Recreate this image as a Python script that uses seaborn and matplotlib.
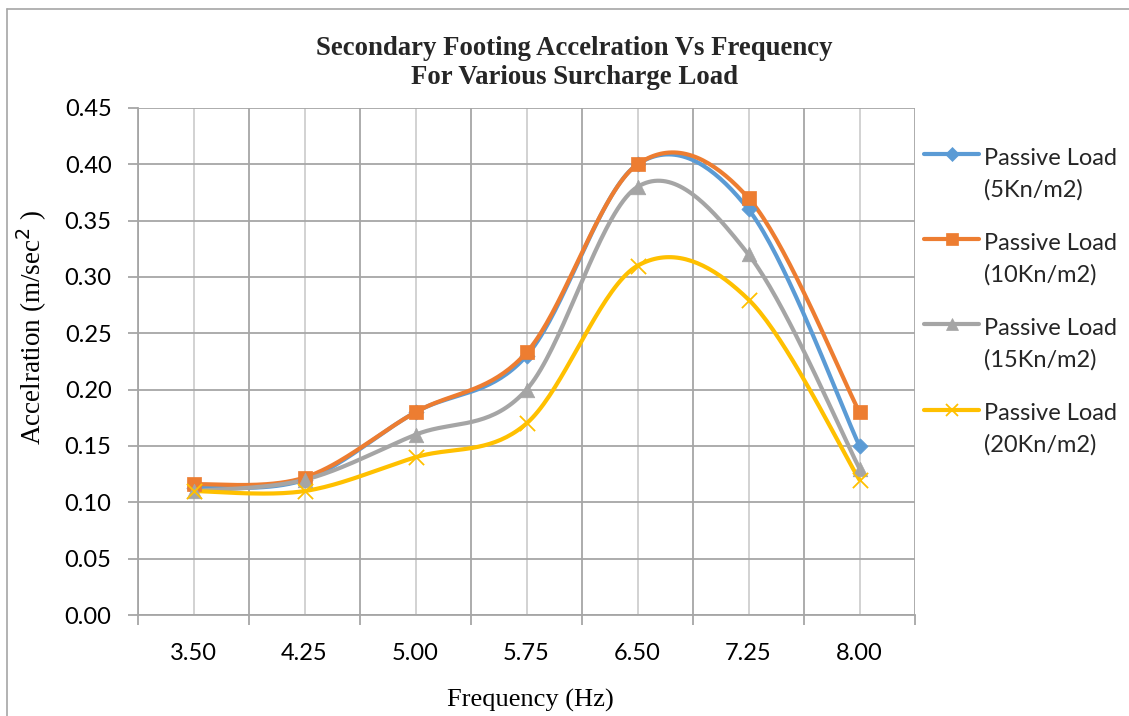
import numpy as np
import pandas as pd
import matplotlib.pyplot as plt
import seaborn as sns
from matplotlib.lines import Line2D
from matplotlib.legend_handler import HandlerLine2D
from matplotlib.ticker import MultipleLocator

# data
frequencies = ["3.50", "4.25", "5.00", "5.75", "6.50", "7.25", "8.00"]
load_5 = [0.113, 0.120, 0.180, 0.230, 0.400, 0.360, 0.150]
load_10 = [0.116, 0.122, 0.180, 0.233, 0.400, 0.370, 0.180]
load_15 = [0.110, 0.120, 0.160, 0.200, 0.380, 0.320, 0.130]
load_20 = [0.110, 0.110, 0.140, 0.170, 0.310, 0.280, 0.120]
series_names = ["Passive Load\n(5Kn/m2)", "Passive Load\n(10Kn/m2)",
                "Passive Load\n(15Kn/m2)", "Passive Load\n(20Kn/m2)"]

colors = ["#5B9BD5", "#ED7D31", "#A5A5A5", "#FFC000"]
markers = ["D", "s", "^", "x"]
marker_sizes = [60, 110, 110, 120]


def excel_smooth(y, n=40):
    """Bezier smoothing similar to Excel's 'smoothed line'."""
    x = np.arange(len(y), dtype=float)
    y = np.asarray(y, dtype=float)
    px = np.r_[x[0], x, x[-1]]
    py = np.r_[y[0], y, y[-1]]
    xs, ys = [], []
    t = np.linspace(0, 1, n)
    for i in range(len(x) - 1):
        p0 = np.array([px[i + 1], py[i + 1]])
        p3 = np.array([px[i + 2], py[i + 2]])
        c1 = p0 + (p3 - np.array([px[i], py[i]])) / 6
        c2 = p3 - (np.array([px[i + 3], py[i + 3]]) - p0) / 6
        b = ((1 - t) ** 3)[:, None] * p0 + (3 * (1 - t) ** 2 * t)[:, None] * c1 \
            + (3 * (1 - t) * t ** 2)[:, None] * c2 + (t ** 3)[:, None] * p3
        xs.append(b[:, 0])
        ys.append(b[:, 1])
    return np.concatenate(xs), np.concatenate(ys)


class FirstLineHandler(HandlerLine2D):
    """Puts the legend key beside the first line of a two-line label."""
    def create_artists(self, legend, orig_handle, xdescent, ydescent,
                       width, height, fontsize, trans):
        artists = super().create_artists(legend, orig_handle, xdescent, ydescent,
                                         width, height, fontsize, trans)
        for a in artists:
            a.set_ydata(np.asarray(a.get_ydata()) + 14.5)
        return artists


sns.set_theme(style="white")
plt.rcParams["font.family"] = ["Lato", "DejaVu Sans"]

fig = plt.figure(figsize=(11.29, 7.16), dpi=100)
ax = fig.add_axes([138 / 1129, 1 - 615 / 716, (915 - 138) / 1129, (615 - 108) / 716])

# outer chart border (only left/top visible in the crop)
fig.add_artist(Line2D([7 / 1129, 7 / 1129], [0, 1 - 9 / 716], transform=fig.transFigure,
                      color="#a6a6a6", linewidth=1.2))
fig.add_artist(Line2D([7 / 1129, 1], [1 - 9 / 716, 1 - 9 / 716], transform=fig.transFigure,
                      color="#a6a6a6", linewidth=1.2))

all_series = [load_5, load_10, load_15, load_20]
rows = []
for name, vals in zip(series_names, all_series):
    sx, sy = excel_smooth(vals)
    rows.append(pd.DataFrame({"x": sx, "y": sy, "series": name}))
smooth_df = pd.concat(rows, ignore_index=True)

sns.lineplot(data=smooth_df, x="x", y="y", hue="series", palette=colors,
             linewidth=3, sort=False, estimator=None, legend=False, ax=ax, zorder=3)

for name, vals, c, m, s in zip(series_names, all_series, colors, markers, marker_sizes):
    pts = pd.DataFrame({"x": np.arange(len(vals)), "y": vals})
    if m == "x":
        sns.scatterplot(data=pts, x="x", y="y", marker=m, color=c, s=s,
                        linewidth=1.3, ax=ax, zorder=4, legend=False)
    else:
        sns.scatterplot(data=pts, x="x", y="y", marker=m, color=c, s=s,
                        edgecolor=c, linewidth=0.5, ax=ax, zorder=4, legend=False)

# axes, ticks and grid
ax.set_xlim(-0.5, len(frequencies) - 0.5)
ax.set_ylim(0, 0.45)
ax.set_xticks(range(len(frequencies)))
ax.set_xticklabels(frequencies)
ax.set_xticks(np.arange(-0.5, len(frequencies), 1.0), minor=True)
ax.yaxis.set_major_locator(MultipleLocator(0.05))
ax.yaxis.set_major_formatter(plt.FuncFormatter(lambda v, p: f"{v:.2f}"))

ax.grid(which="major", axis="y", color="#a6a6a6", linewidth=1.3)
ax.grid(which="minor", axis="x", color="#a6a6a6", linewidth=1.3)
ax.grid(which="major", axis="x", color="#cfcfcf", linewidth=1.3)
ax.set_axisbelow(True)

for side in ["top", "right"]:
    ax.spines[side].set_visible(False)
for side in ["left", "bottom"]:
    ax.spines[side].set_color("#a6a6a6")
    ax.spines[side].set_linewidth(1.3)

ax.tick_params(axis="y", which="major", direction="out", length=7, width=1.3,
               color="#a6a6a6", left=True, labelsize=17, pad=12, labelcolor="black")
ax.tick_params(axis="x", which="major", length=0, labelsize=17, pad=20, labelcolor="black")
ax.tick_params(axis="x", which="minor", direction="out", length=7, width=1.3,
               color="#a6a6a6", bottom=True)

serif = ["Liberation Serif", "DejaVu Serif"]
ax.set_xlabel("Frequency (Hz)", family=serif, fontsize=19, color="black", va="top")
ax.set_ylabel("Accelration (m/sec$^2$ )", family=serif, fontsize=19.5, color="black")
ax.xaxis.set_label_coords(0.5 + 4 / 777, -0.146)
ax.yaxis.set_label_coords(-0.114, 0.568)

fig.text(574 / 1129, 1 - 36 / 716,
         "Secondary Footing Accelration Vs Frequency\nFor Various Surcharge Load",
         ha="center", va="top", fontsize=19.3, fontweight="bold", family=serif,
         linespacing=1.22)

handles = [Line2D([], [], color=c, linewidth=3, marker=m, markersize=9 if m != "D" else 7,
                  markeredgewidth=1.3 if m == "x" else 0.5, markeredgecolor=c)
           for c, m in zip(colors, markers)]
leg = fig.legend(handles, series_names, loc="upper left",
                 bbox_to_anchor=(924 / 1129, 1 - 148 / 716),
                 frameon=False, fontsize=17, handlelength=2.35, handletextpad=0.2,
                 labelspacing=1.37, borderpad=0, borderaxespad=0,
                 handler_map={Line2D: FirstLineHandler()})
for txt in leg.get_texts():
    txt.set_linespacing(1.58)

fig.savefig("out.png", dpi=100)
